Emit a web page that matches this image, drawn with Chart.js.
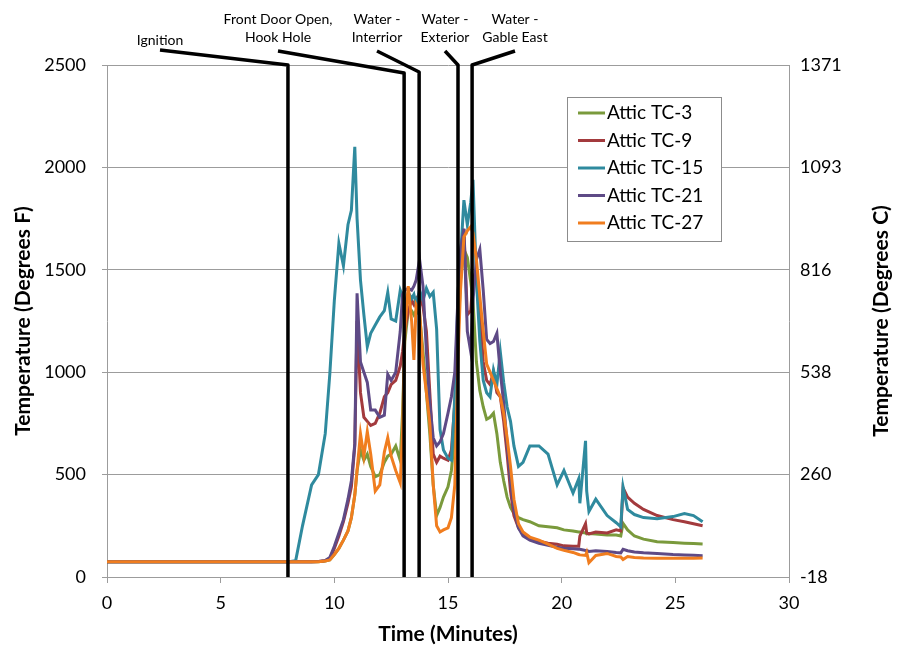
<!DOCTYPE html>
<html>
<head>
<meta charset="utf-8">
<script src="https://cdn.jsdelivr.net/npm/chart.js@4.4.0/dist/chart.umd.min.js"></script>
<style>
  html, body { margin: 0; padding: 0; background: #fff; }
</style>
</head>
<body>
<canvas id="myChart" width="897" height="656"></canvas>
<script>
// time in minutes, shared by every series
const times = [
  0, 4, 8, 8.3, 8.6, 9.0, 9.3, 9.6, 9.8, 10.0,
  10.2, 10.4, 10.6, 10.75, 10.9, 11.0, 11.15, 11.3, 11.45, 11.6,
  11.8, 12.0, 12.2, 12.35, 12.5, 12.7, 12.9, 13.0, 13.1, 13.25,
  13.4, 13.5, 13.6, 13.75, 13.9, 14.05, 14.2, 14.35, 14.5, 14.65,
  14.8, 15.0, 15.15, 15.3, 15.45, 15.55, 15.7, 15.85, 16.0, 16.1,
  16.25, 16.4, 16.55, 16.7, 16.85, 17.0, 17.15, 17.3, 17.45, 17.6,
  17.75, 17.9, 18.1, 18.3, 18.6, 19.0, 19.4, 19.8, 20.1, 20.5,
  20.75, 20.8, 21.05, 21.1, 21.2, 21.5, 22.0, 22.4, 22.6, 22.7,
  22.9, 23.2, 23.6, 24.2, 24.9, 25.4, 25.8, 26.2
];

// temperatures in degrees F
const tc3 = [
  75, 75, 75, 75, 75, 75, 75, 78, 83, 110,
  140, 180, 225, 290, 400, 520, 620, 570, 600, 540,
  490, 500, 560, 590, 600, 640, 570, 800, 1150, 1300,
  1300, 1280, 1300, 1280, 1100, 900, 700, 450, 300, 340,
  390, 440, 520, 700, 1200, 1450, 1600, 1560, 1440, 1350,
  1050, 910, 830, 770, 780, 800, 700, 560, 470, 390,
  340, 310, 290, 280, 270, 250, 245, 240, 230, 225,
  220, 220, 215, 210, 212, 210, 205, 205, 200, 262,
  230, 200, 185, 172, 168, 165, 163, 161
];
const tc9 = [
  75, 75, 75, 75, 75, 75, 76, 80, 90, 140,
  200, 270, 360, 440, 640, 1250, 900, 780, 760, 740,
  750, 800, 880, 900, 940, 960, 1030, 1100, 1200, 1300,
  1350, 1330, 1360, 1380, 1320, 1200, 900, 600, 560, 590,
  580, 570, 620, 850, 1250, 1500, 1700, 1280, 1300, 1450,
  1500, 1300, 1050, 960, 940, 1000, 900, 880, 760, 600,
  420, 300, 240, 210, 190, 175, 165, 160, 152, 150,
  150, 200, 260, 215, 210, 220, 215, 230, 225, 435,
  390, 360, 330, 300, 280, 270, 260, 250
];
const tc15 = [
  75, 75, 75, 80, 250, 450, 500, 700, 990, 1350,
  1630, 1520, 1720, 1790, 2100, 1750, 1450, 1280, 1125, 1190,
  1230, 1270, 1300, 1390, 1260, 1250, 1400, 1370, 1330, 1390,
  1360, 1380, 1330, 1400, 1350, 1410, 1370, 1390, 1210, 720,
  620, 580, 570, 880, 1400, 1560, 1840, 1720, 1830, 1940,
  1450, 1150, 960, 900, 880, 1010, 940, 1100, 950, 830,
  760, 640, 540, 560, 640, 640, 600, 450, 520, 410,
  480, 360, 665, 420, 320, 380, 300, 265, 245, 440,
  330, 305, 290, 285, 295, 310, 300, 270
];
const tc21 = [
  75, 75, 75, 75, 75, 75, 76, 80, 95, 150,
  215, 280, 380, 470, 650, 1385, 1050, 1000, 950, 815,
  815, 780, 790, 990, 960, 1000, 1200, 1380, 1400, 1410,
  1400, 1420, 1450, 1550, 1420, 1100, 850, 680, 640, 660,
  700, 800, 880, 1000, 1400, 1600, 1700, 1200, 1100, 1350,
  1550, 1600, 1400, 1160, 1140, 1150, 1190, 1000, 850, 650,
  470, 330, 240, 200, 180, 165, 155, 145, 140, 138,
  135, 135, 130, 130, 125, 128, 125, 120, 118, 135,
  128, 122, 118, 115, 110, 108, 106, 104
];
const tc27 = [
  75, 75, 75, 75, 75, 75, 75, 78, 83, 110,
  140, 180, 225, 290, 400, 520, 700, 590, 710, 600,
  420, 450, 610, 680, 590, 520, 460, 700, 1200, 1420,
  1250, 1060, 1330, 1300, 1040, 900, 750, 450, 250, 220,
  230, 240, 290, 450, 1100, 1400, 1660, 1690, 1710, 1680,
  1550, 1370, 1200, 1040, 1000, 960, 920, 880, 800, 680,
  540, 380, 260, 220, 195, 180, 160, 140, 130, 120,
  110, 108, 105, 120, 70, 105, 115, 100, 98, 85,
  100, 95, 93, 92, 92, 92, 92, 93
];

const seriesNames = ['Attic TC-3', 'Attic TC-9', 'Attic TC-15', 'Attic TC-21', 'Attic TC-27'];
const seriesValues = [tc3, tc9, tc15, tc21, tc27];
const seriesColors = ['#7a9a3c', '#a33a3d', '#2f8a9e', '#5e4a86', '#f07d1f'];

const eventTimes = [7.96, 13.07, 13.73, 15.44, 16.06];
const eventLabels = [['Ignition'], ['Front Door Open,', 'Hook Hole'], ['Water -', 'Interrior'], ['Water -', 'Exterior'], ['Water -', 'Gable East']];
const labelX = [160, 278, 377, 445, 515];
const leaderDrop = [0, 8, 7, 0, 0];

const tickFont = { family: 'Lato', size: 18 };
const titleFont = { family: 'Lato', size: 21, weight: 'bold' };
const gridGray = '#9c9c9c';

const eventPlugin = {
  id: 'events',
  afterDatasetsDraw(chart) {
    const { ctx, chartArea, scales } = chart;
    ctx.save();
    ctx.strokeStyle = '#000';
    ctx.lineWidth = 3.5;
    ctx.lineJoin = 'round';
    ctx.fillStyle = '#000';
    ctx.font = '14px Lato';
    ctx.textAlign = 'center';
    ctx.textBaseline = 'middle';
    eventTimes.forEach((t, i) => {
      const px = scales.x.getPixelForValue(t);
      const lines = eventLabels[i];
      const startY = lines.length === 1 ? 50 : 51;
      ctx.beginPath();
      ctx.moveTo(labelX[i], startY);
      ctx.lineTo(px, chartArea.top + leaderDrop[i]);
      ctx.lineTo(px, chartArea.bottom);
      ctx.stroke();
      if (lines.length === 1) {
        ctx.fillText(lines[0], labelX[i], 40);
      } else {
        ctx.fillText(lines[0], labelX[i], 19);
        ctx.fillText(lines[1], labelX[i], 37);
      }
    });
    ctx.restore();
  },
  afterDraw(chart) {
    const { ctx, chartArea } = chart;
    ctx.save();
    // legend box
    const bx = chartArea.right - 222, by = chartArea.top + 32, bw = 154, bh = 144;
    ctx.fillStyle = '#fff';
    ctx.fillRect(bx, by, bw, bh);
    ctx.strokeStyle = '#8c8c8c';
    ctx.lineWidth = 1;
    ctx.strokeRect(bx + 0.5, by + 0.5, bw, bh);
    ctx.font = '19px Lato';
    ctx.textAlign = 'left';
    ctx.textBaseline = 'middle';
    seriesNames.forEach((name, i) => {
      const y = by + 16 + i * 27.5;
      ctx.strokeStyle = seriesColors[i];
      ctx.lineWidth = 3;
      ctx.beginPath();
      ctx.moveTo(bx + 11, y);
      ctx.lineTo(bx + 38, y);
      ctx.stroke();
      ctx.fillStyle = '#000';
      ctx.fillText(name, bx + 40, y);
    });
    // right axis title
    ctx.translate(881, (chartArea.top + chartArea.bottom) / 2);
    ctx.rotate(-Math.PI / 2);
    ctx.font = 'bold 21px Lato';
    ctx.textAlign = 'center';
    ctx.fillText('Temperature (Degrees C)', 0, 0);
    ctx.restore();
  }
};

const ctx = document.getElementById('myChart');

const myChart = new Chart(ctx, {
  type: 'line',
  data: {
    datasets: seriesNames.map((name, i) => ({
      label: name,
      data: times.map((t, j) => ({ x: t, y: seriesValues[i][j] })),
      borderColor: seriesColors[i],
      backgroundColor: seriesColors[i],
      borderWidth: 3,
      pointRadius: 0,
      tension: 0,
      order: seriesNames.length - i
    }))
  },
  options: {
    responsive: false,
    animation: false,
    devicePixelRatio: 1,
    layout: { padding: { top: 65, left: 0, right: 0, bottom: 0 } },
    plugins: {
      legend: { display: false },
      tooltip: { enabled: false }
    },
    scales: {
      x: {
        type: 'linear',
        min: 0,
        max: 30,
        ticks: { stepSize: 5, font: tickFont, color: '#000', padding: 9, maxRotation: 0 },
        grid: { drawOnChartArea: false, tickLength: 6, color: gridGray },
        border: { color: gridGray },
        title: { display: true, text: 'Time (Minutes)', font: titleFont, color: '#000', padding: { bottom: 9 } },
        afterFit(scale) { scale.height = 79; }
      },
      y: {
        position: 'left',
        min: 0,
        max: 2500,
        ticks: { stepSize: 500, font: tickFont, color: '#000', padding: 16, callback: v => String(v) },
        grid: { color: gridGray, tickLength: 5 },
        border: { color: gridGray },
        title: { display: true, text: 'Temperature (Degrees F)', font: titleFont, color: '#000', padding: { top: 11 } },
        afterFit(scale) { scale.width = 107; }
      },
      y2: {
        position: 'right',
        min: 0,
        max: 2500,
        ticks: {
          stepSize: 500,
          font: tickFont,
          color: '#000',
          padding: 11,
          callback: v => String(Math.round((v - 32) * 5 / 9))
        },
        grid: { drawOnChartArea: false, drawTicks: false },
        border: { color: gridGray },
        afterFit(scale) { scale.width = 108; }
      }
    }
  },
  plugins: [eventPlugin]
});
</script>
</body>
</html>
